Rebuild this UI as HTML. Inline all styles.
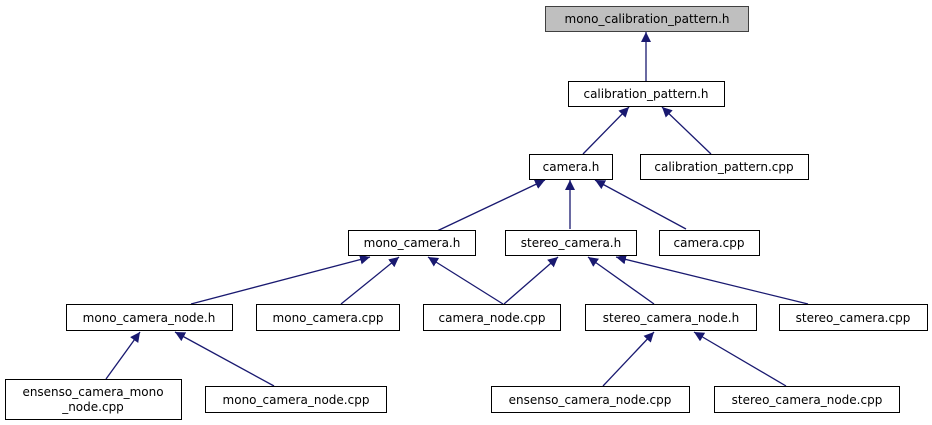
<!DOCTYPE html>
<html><head><meta charset="utf-8"><style>
html,body{margin:0;padding:0;background:#fff;width:932px;height:425px;overflow:hidden}
svg text{font-family:"DejaVu Sans","Liberation Sans",sans-serif;font-size:12px;fill:#000}
</style></head><body>
<svg width="932" height="425" viewBox="0 0 932 425" xmlns="http://www.w3.org/2000/svg">
<defs>
<marker id="a" viewBox="0 0 10 10" refX="10" refY="5" markerWidth="10" markerHeight="10" markerUnits="userSpaceOnUse" orient="auto">
<path d="M0,0 L10,5 L0,10 z" fill="#191970"/>
</marker>
</defs>
<g stroke="#191970" stroke-width="1.3" marker-end="url(#a)" fill="none">
<line x1="646" y1="81" x2="646" y2="32"/>
<line x1="583" y1="154" x2="629" y2="107"/>
<line x1="711" y1="154" x2="662" y2="107"/>
<line x1="437" y1="231" x2="545" y2="180"/>
<line x1="570" y1="229" x2="570" y2="180"/>
<line x1="686" y1="229" x2="595" y2="180"/>
<line x1="191" y1="304" x2="370" y2="257"/>
<line x1="341" y1="304" x2="399" y2="257"/>
<line x1="503" y1="304" x2="428" y2="257"/>
<line x1="504" y1="304" x2="558" y2="257"/>
<line x1="654" y1="304" x2="588" y2="257"/>
<line x1="808" y1="304" x2="616" y2="257"/>
<line x1="106" y1="379" x2="140" y2="332"/>
<line x1="274" y1="386" x2="175" y2="332"/>
<line x1="603" y1="386" x2="654" y2="332"/>
<line x1="786" y1="386" x2="694" y2="332"/>
</g>
<g stroke="#000" stroke-width="1" fill="#fff">
<rect x="545.5" y="6.5" width="203" height="25" fill="#bfbfbf" stroke="#404040"/>
<rect x="568.5" y="81.5" width="156" height="25"/>
<rect x="529.5" y="154.5" width="83" height="25"/>
<rect x="640.5" y="154.5" width="168" height="25"/>
<rect x="348.5" y="230.5" width="127" height="25"/>
<rect x="505.5" y="230.5" width="131" height="25"/>
<rect x="659.5" y="230.5" width="100" height="25"/>
<rect x="66.5" y="304.5" width="166" height="26"/>
<rect x="256.5" y="304.5" width="143" height="26"/>
<rect x="423.5" y="304.5" width="137" height="26"/>
<rect x="585.5" y="304.5" width="171" height="26"/>
<rect x="779.5" y="304.5" width="148" height="26"/>
<rect x="5.5" y="379.5" width="176" height="40"/>
<rect x="205.5" y="386.5" width="181" height="26"/>
<rect x="491.5" y="386.5" width="198" height="26"/>
<rect x="714.5" y="386.5" width="185" height="26"/>
</g>
<g text-anchor="middle">
<text x="647" y="23">mono_calibration_pattern.h</text>
<text x="646" y="98">calibration_pattern.h</text>
<text x="571" y="171">camera.h</text>
<text x="724" y="171">calibration_pattern.cpp</text>
<text x="412" y="247">mono_camera.h</text>
<text x="571" y="247">stereo_camera.h</text>
<text x="709" y="247">camera.cpp</text>
<text x="149" y="322">mono_camera_node.h</text>
<text x="328" y="322">mono_camera.cpp</text>
<text x="492" y="322">camera_node.cpp</text>
<text x="671" y="322">stereo_camera_node.h</text>
<text x="853" y="322">stereo_camera.cpp</text>
<text x="93" y="396">ensenso_camera_mono</text>
<text x="93" y="411">_node.cpp</text>
<text x="296" y="404">mono_camera_node.cpp</text>
<text x="590" y="404">ensenso_camera_node.cpp</text>
<text x="807" y="404">stereo_camera_node.cpp</text>
</g>
</svg>
</body></html>
